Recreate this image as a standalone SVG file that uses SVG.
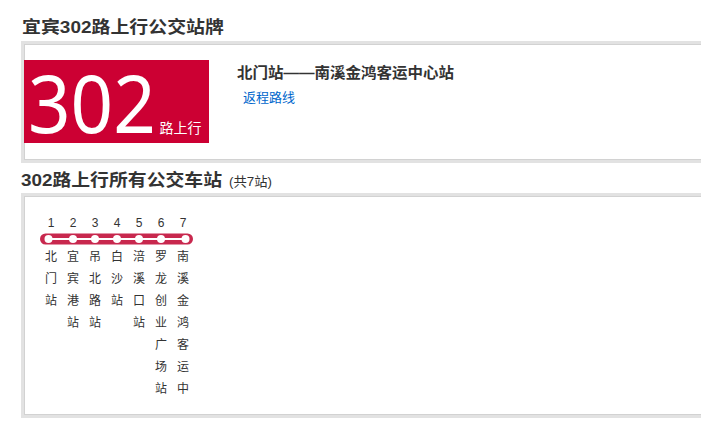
<svg xmlns="http://www.w3.org/2000/svg" width="701" height="432" viewBox="0 0 701 432">
<style>
.t{font-family:"Liberation Sans","Noto Sans CJK SC",sans-serif;fill:#333}
.h{font-size:17px;font-weight:bold}
.n{font-size:12px;text-anchor:middle}
.s{font-size:12px;text-anchor:middle}
.panel{fill:#fff;stroke:#e2e2e2;stroke-width:3}
.pin{fill:none;stroke:#d2d2d2;stroke-width:1}
.dot{fill:#fff}
</style>
<rect width="701" height="432" fill="#fff"/>
<g id="header">
<text class="t h" x="22" y="33" textLength="202" lengthAdjust="spacingAndGlyphs">宜宾302路上行公交站牌</text>
</g>
<g id="panel1">
<rect class="panel" x="22.5" y="42.5" width="700" height="119"/>
<rect class="pin" x="24.5" y="44.5" width="700" height="115"/>
</g>
<g id="badge">
<rect x="24" y="60" width="185" height="83" fill="#cc0033"/>
<text transform="translate(28,133) scale(0.92,1)" font-family="Noto Sans,sans-serif" font-size="81" fill="#fff">302</text>
<text x="159.5" y="133" font-family="Liberation Sans,Noto Sans CJK SC,sans-serif" font-size="14" fill="#fff">路上行</text>
</g>
<g id="route-info">
<text class="t" x="237" y="78" font-size="15" font-weight="bold" textLength="217" lengthAdjust="spacingAndGlyphs">北门站——南溪金鸿客运中心站</text>
<text x="243" y="102" font-family="Liberation Sans,Noto Sans CJK SC,sans-serif" font-size="13" fill="#0066cc">返程路线</text>
</g>
<g id="header2">
<text class="t h" x="21" y="186" textLength="201" lengthAdjust="spacingAndGlyphs">302路上行所有公交车站</text>
<text class="t" x="229" y="186" font-size="13" textLength="43" lengthAdjust="spacingAndGlyphs">(共7站)</text>
</g>
<g id="panel2">
<rect class="panel" x="22.5" y="194.5" width="700" height="222"/>
<rect class="pin" x="24.5" y="196.5" width="700" height="218"/>
</g>
<g id="connectors">
<rect x="40" y="233.5" width="153" height="11" rx="5.5" fill="#c8284e"/>
<line x1="48" y1="239" x2="186" y2="239" stroke="#fff" stroke-width="2"/>
</g>
<g id="stop1"><circle class="dot" cx="48.5" cy="239" r="4"/><text class="t n" x="51" y="227">1</text><text class="t s" x="51"><tspan x="51" y="261">北</tspan><tspan x="51" y="283">门</tspan><tspan x="51" y="305">站</tspan></text></g>
<g id="stop2"><circle class="dot" cx="73" cy="239" r="4"/><text class="t n" x="73" y="227">2</text><text class="t s"><tspan x="73" y="261">宜</tspan><tspan x="73" y="283">宾</tspan><tspan x="73" y="305">港</tspan><tspan x="73" y="327">站</tspan></text></g>
<g id="stop3"><circle class="dot" cx="95" cy="239" r="4"/><text class="t n" x="95" y="227">3</text><text class="t s"><tspan x="95" y="261">吊</tspan><tspan x="95" y="283">北</tspan><tspan x="95" y="305">路</tspan><tspan x="95" y="327">站</tspan></text></g>
<g id="stop4"><circle class="dot" cx="117" cy="239" r="4"/><text class="t n" x="117" y="227">4</text><text class="t s"><tspan x="117" y="261">白</tspan><tspan x="117" y="283">沙</tspan><tspan x="117" y="305">站</tspan></text></g>
<g id="stop5"><circle class="dot" cx="139" cy="239" r="4"/><text class="t n" x="139" y="227">5</text><text class="t s"><tspan x="139" y="261">涪</tspan><tspan x="139" y="283">溪</tspan><tspan x="139" y="305">口</tspan><tspan x="139" y="327">站</tspan></text></g>
<g id="stop6"><circle class="dot" cx="161" cy="239" r="4"/><text class="t n" x="161" y="227">6</text><text class="t s"><tspan x="161" y="261">罗</tspan><tspan x="161" y="283">龙</tspan><tspan x="161" y="305">创</tspan><tspan x="161" y="327">业</tspan><tspan x="161" y="349">广</tspan><tspan x="161" y="371">场</tspan><tspan x="161" y="393">站</tspan></text></g>
<g id="stop7"><circle class="dot" cx="185.5" cy="239" r="4"/><text class="t n" x="183" y="227">7</text><text class="t s"><tspan x="183" y="261">南</tspan><tspan x="183" y="283">溪</tspan><tspan x="183" y="305">金</tspan><tspan x="183" y="327">鸿</tspan><tspan x="183" y="349">客</tspan><tspan x="183" y="371">运</tspan><tspan x="183" y="393">中</tspan></text></g>
</svg>
